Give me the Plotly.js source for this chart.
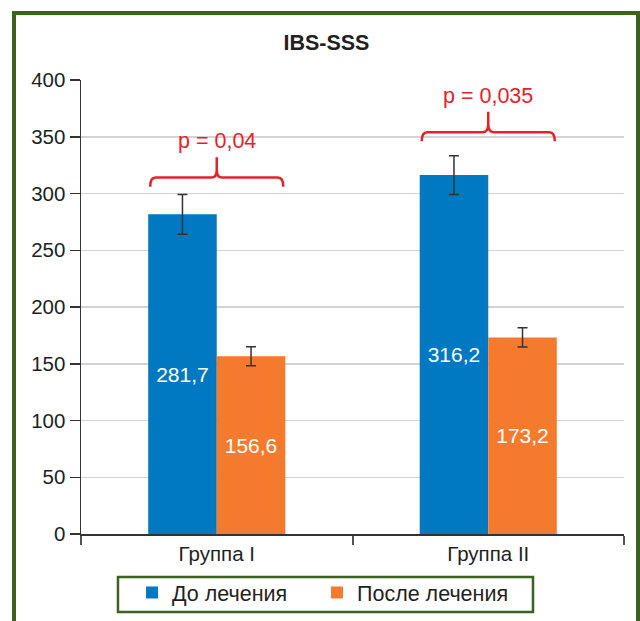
<!DOCTYPE html>
<html>
<head>
<meta charset="utf-8">
<script src="https://cdn.plot.ly/plotly-3.0.1.min.js"></script>
<style>
  html, body { margin: 0; padding: 0; background: #fff; }
  #wrap { position: relative; width: 640px; height: 621px; overflow: hidden; }
  #chart { position: absolute; left: 0; top: 0; width: 640px; height: 621px; }
  #frame { position: absolute; left: 12px; top: 11px; width: 620px; height: 700px;
           border-left: 4px solid #3C6220; border-top: 4px solid #3C6220; border-right: 4px solid #3C6220;
           pointer-events: none; }
</style>
</head>
<body>
<div id="wrap">
  <div id="chart"></div>
  <div id="frame"></div>
</div>
<script>
// ---- data ----
const categories = ["Группа I", "Группа II"];
const seriesNames = ["До лечения", "После лечения"];
const valuesBefore = [281.7, 316.2];
const valuesAfter = [156.6, 173.2];
const errBefore = [17.5, 17];
const errAfter = [8.3, 8.5];
const pLabels = ["p = 0,04", "p = 0,035"];
const braceLevels = [314, 354];
const chartTitle = "IBS-SSS";

// ---- styles ----
const blue = "#0079C2";
const orange = "#F47A2D";
const red = "#E8202A";
const green = "#3C6220";
const txt = "#231F20";
const font = "Liberation Sans, Arial, Helvetica, sans-serif";

const barCommon = {
  type: "bar",
  textposition: "inside",
  insidetextanchor: "middle",
  texttemplate: "%{y:.1f}",
  textfont: { color: "#fff", size: 21, family: font },
  hoverinfo: "none"
};

const traces = [
  Object.assign({}, barCommon, {
    x: categories, y: valuesBefore, name: seriesNames[0], legend: "legend",
    marker: { color: blue, line: { width: 0 } },
    error_y: { type: "data", array: errBefore, visible: true, color: "#333", thickness: 1.5, width: 5 }
  }),
  Object.assign({}, barCommon, {
    x: categories, y: valuesAfter, name: seriesNames[1], legend: "legend2",
    marker: { color: orange, line: { width: 0 } },
    error_y: { type: "data", array: errAfter, visible: true, color: "#333", thickness: 1.5, width: 5 }
  })
];

// braces (curly brackets) over each group
const shapes = [];
const annotations = [];
const h = 0.245, r = 0.02, tipH = 18, endD = 8;
braceLevels.forEach((yl, i) => {
  const c = i;
  const yTip = yl + tipH, yMid = yl + 7, yEnd = yl - endD;
  const path = `M ${c-h},${yEnd} Q ${c-h},${yl} ${c-h+r},${yl} L ${c-r},${yl} Q ${c},${yl} ${c},${yMid} L ${c},${yTip} ` +
               `M ${c},${yMid} Q ${c},${yl} ${c+r},${yl} L ${c+h-r},${yl} Q ${c+h},${yl} ${c+h},${yEnd}`;
  shapes.push({ type: "path", xref: "x", yref: "y", path: path, line: { color: red, width: 2.5 } });
  annotations.push({
    xref: "x", yref: "y", x: c, y: yl + 32, text: pLabels[i], showarrow: false,
    font: { color: red, size: 21.5, family: font }, xanchor: "center", yanchor: "middle"
  });
});

// legend frame (decoration)
shapes.push({
  type: "rect", xref: "paper", yref: "paper",
  x0: 0.0681, x1: 0.8324, y0: -0.1718, y1: -0.0947,
  line: { color: green, width: 2.5 }, fillcolor: "rgba(0,0,0,0)", layer: "above"
});

const legendCommon = {
  orientation: "h", xanchor: "left",
  yref: "container", y: 1 - 572/621, yanchor: "top",
  borderwidth: 0, bgcolor: "rgba(0,0,0,0)",
  font: { size: 21.5, color: txt, family: font }
};

const layout = {
  width: 640, height: 621,
  margin: { l: 81, r: 16, t: 80, b: 87 },
  paper_bgcolor: "#fff", plot_bgcolor: "#fff",
  separators: ", ",
  font: { family: font, color: txt, size: 21 },
  title: {
    text: "<b>" + chartTitle + "</b>", font: { size: 21.5, color: txt, family: font },
    xref: "paper", x: 0.452, xanchor: "center",
    yref: "container", y: 1 - 42/621, yanchor: "middle",
    automargin: false
  },
  barmode: "group", bargap: 0.495, bargroupgap: 0,
  xaxis: {
    type: "category",
    showline: true, linecolor: "#333", linewidth: 2,
    ticks: "outside", tickson: "boundaries", ticklen: 9, tickcolor: "#555", tickwidth: 2,
    tickfont: { size: 20.5, color: txt }, showgrid: false, zeroline: false, fixedrange: true,
    automargin: false
  },
  yaxis: {
    range: [0, 400], dtick: 50, tick0: 0,
    showline: true, linecolor: "#333", linewidth: 1.5,
    ticks: "outside", ticklen: 10, tickcolor: "#333", tickwidth: 1.5,
    tickfont: { size: 20.5, color: txt },
    showgrid: true, gridcolor: "#D3D3D3", gridwidth: 1.5,
    zeroline: false, fixedrange: true, automargin: false
  },
  showlegend: true,
  legend: Object.assign({}, legendCommon, { x: 0.094 }),
  legend2: Object.assign({}, legendCommon, { x: 0.4346 }),
  shapes: shapes,
  annotations: annotations
};

Plotly.newPlot("chart", traces, layout, { staticPlot: true, displayModeBar: false });
</script>
</body>
</html>
